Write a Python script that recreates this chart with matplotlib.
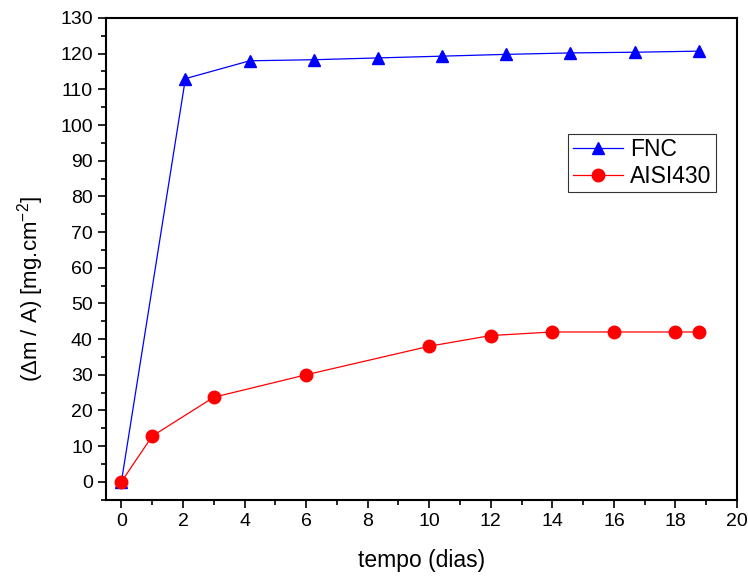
import matplotlib
matplotlib.use("Agg")
from matplotlib import pyplot as plt
from matplotlib.ticker import MultipleLocator

plt.rcParams['font.family'] = ['Liberation Sans', 'DejaVu Sans']
plt.rcParams['mathtext.fontset'] = 'custom'
plt.rcParams['mathtext.rm'] = 'Liberation Sans'
plt.rcParams['mathtext.it'] = 'Liberation Sans'

fnc_x = [0, 2.08, 4.17, 6.25, 8.33, 10.42, 12.5, 14.58, 16.67, 18.75]
fnc_y = [0, 113, 118, 118.3, 118.8, 119.3, 119.8, 120.2, 120.4, 120.7]
aisi_x = [0, 1, 3, 6, 10, 12, 14, 16, 18, 18.75]
aisi_y = [0, 12.8, 23.7, 30, 38, 41, 42, 42, 42, 42]

fig = plt.figure(figsize=(7.48, 5.76), dpi=100)
ax = fig.add_axes([0.1417, 0.1325, 0.8436, 0.8363])

ax.plot(fnc_x, fnc_y, color="blue", lw=0.9, marker="^", ms=9, label="FNC")
ax.plot(aisi_x, aisi_y, color="red", lw=0.9, marker="o", ms=9, label="AISI430")

ax.set_xlim(-0.5, 20)
ax.set_ylim(-5, 130)
ax.xaxis.set_major_locator(MultipleLocator(2))
ax.xaxis.set_minor_locator(MultipleLocator(1))
ax.yaxis.set_major_locator(MultipleLocator(10))
ax.yaxis.set_minor_locator(MultipleLocator(5))
ax.tick_params(which="major", direction="out", length=6, width=1.2, labelsize=14)
ax.tick_params(which="minor", direction="out", length=3.5, width=1.2)
for s in ax.spines.values():
    s.set_linewidth(1.5)

ax.set_xlabel("tempo (dias)", fontsize=16.5, labelpad=14)
ax.set_ylabel("($\\Delta$m / A) [mg.cm$^{-2}$]", fontsize=16)
ax.yaxis.set_label_coords(-0.095, 0.438)

leg = ax.legend(loc="upper right", bbox_to_anchor=(0.967, 0.76), fontsize=16.5,
                frameon=True, fancybox=False, edgecolor="black",
                borderpad=0.2, handlelength=2.2, handletextpad=0.3,
                labelspacing=0.15, borderaxespad=0)
leg.get_frame().set_linewidth(0.8)

fig.savefig("out.png", dpi=100)
